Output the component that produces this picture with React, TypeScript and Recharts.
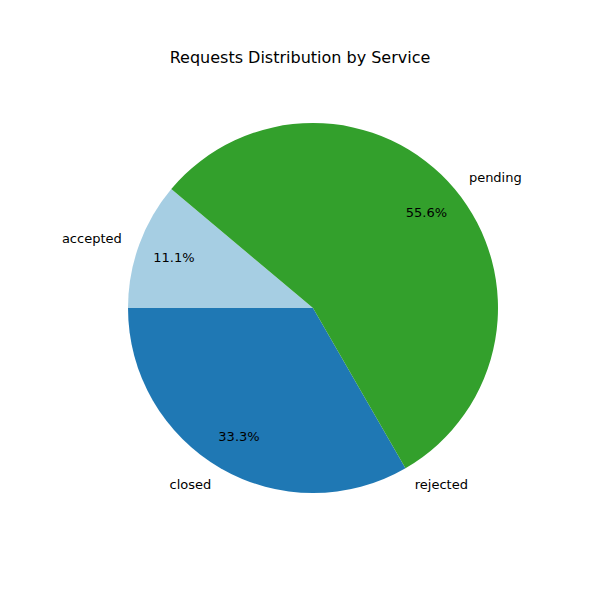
import { PieChart, Pie, Cell } from "recharts";

const statuses = ["accepted", "closed", "rejected", "pending"];
const counts = [1, 3, 0, 5];
const colors = ["#a6cee3", "#1f78b4", "#b2df8a", "#33a02c"];

const data = statuses.map((name, i) => ({ name, value: counts[i] }));
const total = counts.reduce((a, b) => a + b, 0);
const RAD = Math.PI / 180;

function renderLabel(props: any) {
  const { cx, cy, midAngle, outerRadius, index } = props;
  const c = Math.cos(-midAngle * RAD);
  const s = Math.sin(-midAngle * RAD);
  const lx = cx + outerRadius * 1.1 * c;
  const ly = cy + outerRadius * 1.1 * s;
  const px = cx + outerRadius * 0.8 * c;
  const py = cy + outerRadius * 0.8 * s;
  const pct = ((counts[index] / total) * 100).toFixed(1) + "%";
  return (
    <g>
      <text x={lx} y={ly} fontSize={13} fill="#000" textAnchor={c >= 0 ? "start" : "end"} dominantBaseline="central">
        {statuses[index]}
      </text>
      {counts[index] > 0 && (
        <text x={px} y={py} fontSize={13} fill="#000" textAnchor="middle" dominantBaseline="central">
          {pct}
        </text>
      )}
    </g>
  );
}

export default function App() {
  return (
    <div style={{ position: "absolute", left: 0, top: 0, width: 600, height: 600, background: "#fff", fontFamily: "DejaVu Sans" }}>
      <div style={{ position: "absolute", top: 48, width: 600, textAlign: "center", fontSize: 16 }}>
        Requests Distribution by Service
      </div>
      <PieChart width={600} height={600}>
        <Pie
          data={data}
          dataKey="value"
          cx={308}
          cy={303}
          outerRadius={185}
          startAngle={140}
          endAngle={500}
          stroke="none"
          label={renderLabel}
          labelLine={false}
          isAnimationActive={false}
        >
          {data.map((d, i) => (
            <Cell key={d.name} fill={colors[i]} />
          ))}
        </Pie>
      </PieChart>
    </div>
  );
}
